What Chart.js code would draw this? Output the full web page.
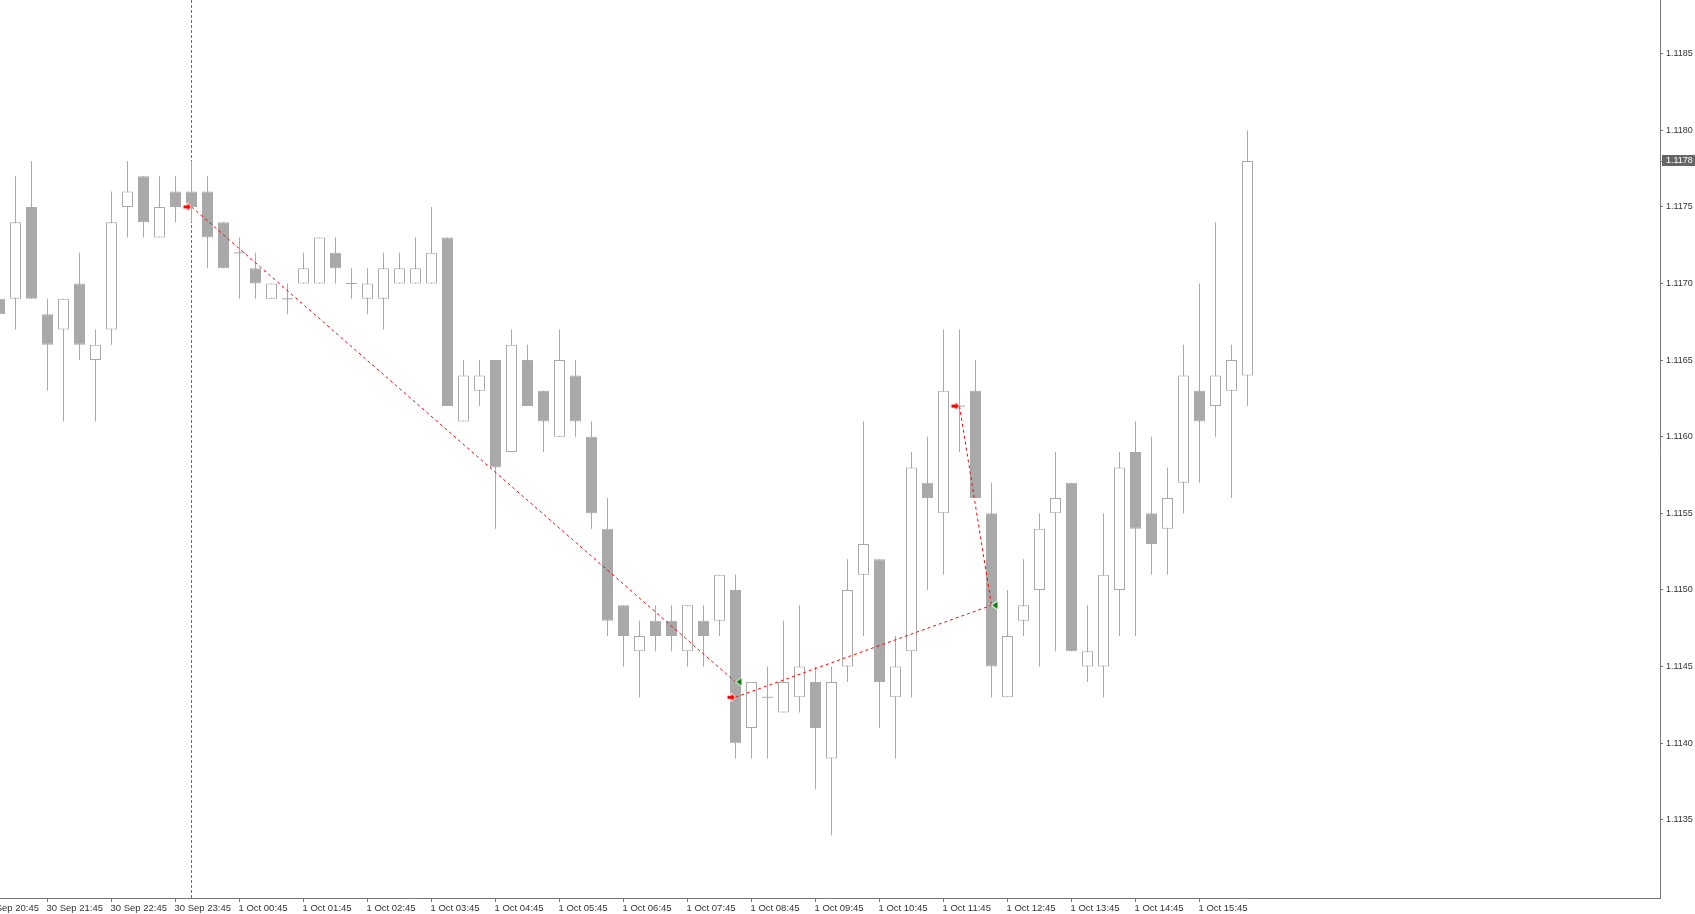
<!DOCTYPE html>
<html>
<head>
<meta charset="utf-8">
<script src="https://cdn.jsdelivr.net/npm/chart.js@4/dist/chart.umd.min.js"></script>
<style>
  html, body { margin: 0; padding: 0; background: #ffffff; overflow: hidden; }
  canvas { display: block; }
</style>
</head>
<body>
<canvas id="chart" width="1695" height="914"></canvas>
<script>
// EURUSD M15, 30 Sep 21:00 .. 1 Oct 16:30 (index 0 = 30 Sep 21:00)
const opens = [
    1.1169, 1.1169, 1.1175, 1.1168, 1.1167, 1.1170, 1.1165, 1.1167, 1.1175, 1.1177,
    1.1173, 1.1176, 1.1176, 1.1176, 1.1174, 1.1172, 1.1171, 1.1169, 1.1169, 1.1170,
    1.1170, 1.1172, 1.1170, 1.1169, 1.1169, 1.1170, 1.1170, 1.1170, 1.1173, 1.1161,
    1.1163, 1.1165, 1.1159, 1.1165, 1.1163, 1.1160, 1.1164, 1.1160, 1.1154, 1.1149,
    1.1146, 1.1148, 1.1148, 1.1146, 1.1148, 1.1148, 1.1150, 1.1141, 1.1143, 1.1142,
    1.1143, 1.1144, 1.1139, 1.1145, 1.1151, 1.1152, 1.1143, 1.1146, 1.1157, 1.1155,
    1.1162, 1.1163, 1.1155, 1.1143, 1.1148, 1.1150, 1.1155, 1.1157, 1.1145, 1.1145,
    1.1150, 1.1159, 1.1155, 1.1154, 1.1157, 1.1163, 1.1162, 1.1163, 1.1164
];
const highs = [
    1.1170, 1.1177, 1.1178, 1.1169, 1.1169, 1.1172, 1.1167, 1.1176, 1.1178, 1.1177,
    1.1177, 1.1177, 1.1178, 1.1177, 1.1174, 1.1173, 1.1172, 1.1170, 1.1170, 1.1172,
    1.1173, 1.1173, 1.1171, 1.1171, 1.1172, 1.1172, 1.1173, 1.1175, 1.1173, 1.1165,
    1.1165, 1.1165, 1.1167, 1.1166, 1.1163, 1.1167, 1.1165, 1.1161, 1.1156, 1.1149,
    1.1148, 1.1149, 1.1149, 1.1149, 1.1149, 1.1151, 1.1151, 1.1144, 1.1145, 1.1148,
    1.1149, 1.1145, 1.1145, 1.1152, 1.1161, 1.1152, 1.1147, 1.1159, 1.1160, 1.1167,
    1.1167, 1.1165, 1.1157, 1.1150, 1.1152, 1.1155, 1.1159, 1.1157, 1.1149, 1.1155,
    1.1159, 1.1161, 1.1160, 1.1158, 1.1166, 1.1170, 1.1174, 1.1166, 1.1180
];
const lows = [
    1.1167, 1.1167, 1.1169, 1.1163, 1.1161, 1.1165, 1.1161, 1.1166, 1.1173, 1.1173,
    1.1173, 1.1174, 1.1174, 1.1171, 1.1171, 1.1169, 1.1169, 1.1169, 1.1168, 1.1170,
    1.1170, 1.1170, 1.1169, 1.1168, 1.1167, 1.1170, 1.1170, 1.1170, 1.1162, 1.1161,
    1.1162, 1.1154, 1.1159, 1.1162, 1.1159, 1.1160, 1.1160, 1.1154, 1.1147, 1.1145,
    1.1143, 1.1146, 1.1146, 1.1145, 1.1145, 1.1147, 1.1139, 1.1139, 1.1139, 1.1142,
    1.1142, 1.1137, 1.1134, 1.1144, 1.1147, 1.1141, 1.1139, 1.1143, 1.1150, 1.1151,
    1.1159, 1.1156, 1.1143, 1.1143, 1.1147, 1.1145, 1.1146, 1.1146, 1.1144, 1.1143,
    1.1147, 1.1147, 1.1151, 1.1151, 1.1155, 1.1157, 1.1160, 1.1156, 1.1162
];
const closes = [
    1.1168, 1.1174, 1.1169, 1.1166, 1.1169, 1.1166, 1.1166, 1.1174, 1.1176, 1.1174,
    1.1175, 1.1175, 1.1175, 1.1173, 1.1171, 1.1172, 1.1170, 1.1170, 1.1169, 1.1171,
    1.1173, 1.1171, 1.1170, 1.1170, 1.1171, 1.1171, 1.1171, 1.1172, 1.1162, 1.1164,
    1.1164, 1.1158, 1.1166, 1.1162, 1.1161, 1.1165, 1.1161, 1.1155, 1.1148, 1.1147,
    1.1147, 1.1147, 1.1147, 1.1149, 1.1147, 1.1151, 1.1140, 1.1144, 1.1143, 1.1144,
    1.1145, 1.1141, 1.1144, 1.1150, 1.1153, 1.1144, 1.1145, 1.1158, 1.1156, 1.1163,
    1.1162, 1.1156, 1.1145, 1.1147, 1.1149, 1.1154, 1.1156, 1.1146, 1.1146, 1.1151,
    1.1158, 1.1154, 1.1153, 1.1156, 1.1164, 1.1161, 1.1164, 1.1165, 1.1178
];

// time axis labels, one every 4 bars, first one sits one bar left of index 0
const tickLabels = [
    '30 Sep 20:45', '30 Sep 21:45', '30 Sep 22:45', '30 Sep 23:45',
    '1 Oct 00:45', '1 Oct 01:45', '1 Oct 02:45', '1 Oct 03:45',
    '1 Oct 04:45', '1 Oct 05:45', '1 Oct 06:45', '1 Oct 07:45',
    '1 Oct 08:45', '1 Oct 09:45', '1 Oct 10:45', '1 Oct 11:45',
    '1 Oct 12:45', '1 Oct 13:45', '1 Oct 14:45', '1 Oct 15:45'
];
const firstTickIndex = -1;
const barsPerTick = 4;

const priceTicks = [1.1135, 1.1140, 1.1145, 1.1150, 1.1155, 1.1160, 1.1165, 1.1170, 1.1175, 1.1180, 1.1185];

// day separator (1 Oct 00:00)
const separatorIndex = 12;

// trades: open bar / price, close bar / price
const tradeOpenIdx = [12, 46, 60];
const tradeOpenPrice = [1.1175, 1.1143, 1.1162];
const tradeCloseIdx = [46, 62, 62];
const tradeClosePrice = [1.1144, 1.1149, 1.1149];

const Y_MIN = 1.11299;
const Y_MAX = 1.11885;
const X_MIN = 0.03125;
const X_MAX = 103.78125;

const CANDLE = '#a9a9a9';
const AXIS = '#777777';
const TEXT = '#333333';

function makeOpenArrow() {
    const c = document.createElement('canvas');
    c.width = 22; c.height = 13;
    const g = c.getContext('2d');
    g.beginPath();
    g.moveTo(11, 6.5);
    g.lineTo(6.5, 2);
    g.lineTo(6.5, 4.5);
    g.lineTo(2.5, 4.5);
    g.lineTo(2.5, 8.5);
    g.lineTo(6.5, 8.5);
    g.lineTo(6.5, 11);
    g.closePath();
    g.fillStyle = '#ff0000';
    g.fill();
    g.strokeStyle = '#ffffff';
    g.lineWidth = 1;
    g.stroke();
    return c;
}

function makeCloseMark() {
    const c = document.createElement('canvas');
    c.width = 22; c.height = 13;
    const g = c.getContext('2d');
    g.beginPath();
    g.moveTo(11, 6.5);
    g.lineTo(17.5, 2);
    g.lineTo(17.5, 11);
    g.closePath();
    g.fillStyle = '#008000';
    g.fill();
    g.strokeStyle = '#ffffff';
    g.lineWidth = 1;
    g.stroke();
    return c;
}

const wickData = highs.map((h, i) => ({ x: i, y: [lows[i], h] }));
const bodyData = opens.map((o, i) => (o === closes[i] ? null : { x: i, y: [o, closes[i]] })).filter(Boolean);
const bodyFill = bodyData.map(d => (d.y[1] > d.y[0] ? '#ffffff' : CANDLE));
const dojiData = opens.map((o, i) => (o === closes[i] ? { x: i, y: o } : null)).filter(Boolean);

const tradeLines = tradeOpenIdx.map((idx, k) => ({
    type: 'line',
    data: [{ x: idx, y: tradeOpenPrice[k] }, { x: tradeCloseIdx[k], y: tradeClosePrice[k] }],
    borderColor: '#ff0000',
    borderWidth: 1,
    borderDash: [3, 3],
    pointRadius: 0,
    fill: false,
    order: 1
}));

const openArrow = makeOpenArrow();
const closeMark = makeCloseMark();

const currentPriceLabel = {
    id: 'currentPriceLabel',
    afterDraw(chart) {
        const { ctx, chartArea, scales } = chart;
        const last = closes[closes.length - 1];
        const y = Math.round(scales.y.getPixelForValue(last));
        ctx.save();
        ctx.fillStyle = '#666666';
        ctx.fillRect(chartArea.right + 2, y - 6, chart.width - chartArea.right - 2, 11);
        ctx.strokeStyle = AXIS;
        ctx.beginPath();
        ctx.moveTo(chartArea.right, y + 0.5);
        ctx.lineTo(chartArea.right + 3, y + 0.5);
        ctx.stroke();
        ctx.fillStyle = '#ffffff';
        ctx.font = '9px "Liberation Sans", Arial, sans-serif';
        ctx.textBaseline = 'middle';
        ctx.fillText(last.toFixed(4), chartArea.right + 6, y);
        ctx.restore();
    }
};

const ctx = document.getElementById('chart').getContext('2d');
new Chart(ctx, {
    type: 'bar',
    data: {
        datasets: [
            {
                type: 'line',
                data: tradeOpenIdx.map((idx, k) => ({ x: idx, y: tradeOpenPrice[k] })),
                showLine: false,
                pointStyle: openArrow,
                pointRadius: 5,
                order: 0
            },
            {
                type: 'line',
                data: tradeCloseIdx.map((idx, k) => ({ x: idx, y: tradeClosePrice[k] })),
                showLine: false,
                pointStyle: closeMark,
                pointRadius: 5,
                order: 0
            },
            ...tradeLines,
            {
                type: 'line',
                data: dojiData,
                showLine: false,
                pointStyle: 'line',
                pointRadius: 5.5,
                pointBorderColor: CANDLE,
                pointBorderWidth: 1,
                order: 2
            },
            {
                data: bodyData,
                backgroundColor: bodyFill,
                borderColor: CANDLE,
                borderWidth: 1,
                borderSkipped: false,
                barThickness: 11,
                grouped: false,
                inflateAmount: 0,
                order: 3
            },
            {
                data: wickData,
                backgroundColor: CANDLE,
                borderWidth: 0,
                barThickness: 1,
                grouped: false,
                inflateAmount: 0,
                order: 4
            },
            {
                type: 'line',
                data: [{ x: separatorIndex, y: Y_MIN }, { x: separatorIndex, y: Y_MAX }],
                borderColor: '#6e6e6e',
                borderWidth: 1,
                borderDash: [3, 2],
                pointRadius: 0,
                order: 5
            }
        ]
    },
    options: {
        responsive: false,
        animation: false,
        layout: { padding: 0, autoPadding: false },
        plugins: {
            legend: { display: false },
            tooltip: { enabled: false }
        },
        scales: {
            x: {
                type: 'linear',
                position: 'bottom',
                offset: false,
                min: X_MIN,
                max: X_MAX,
                grid: { offset: false, drawOnChartArea: false, drawTicks: true, tickLength: 4, color: AXIS },
                border: { display: true, color: AXIS, width: 1 },
                ticks: {
                    autoSkip: false,
                    maxRotation: 0,
                    align: 'start',
                    labelOffset: -1,
                    padding: 1,
                    color: TEXT,
                    font: { family: '"Liberation Sans", Arial, sans-serif', size: 9.5 },
                    callback: (value, index) => tickLabels[index]
                },
                afterBuildTicks: (scale) => {
                    scale.ticks = tickLabels.map((_, k) => ({ value: firstTickIndex + barsPerTick * k }));
                },
                afterFit: (scale) => {
                    scale.height = 16;
                    scale.paddingLeft = 0;
                    scale.paddingRight = 0;
                }
            },
            y: {
                type: 'linear',
                position: 'right',
                min: Y_MIN,
                max: Y_MAX,
                grid: { drawOnChartArea: false, drawTicks: true, tickLength: 3, color: AXIS },
                border: { display: true, color: AXIS, width: 1 },
                ticks: {
                    padding: 3,
                    color: TEXT,
                    font: { family: '"Liberation Sans", Arial, sans-serif', size: 9 },
                    callback: (value) => Number(value).toFixed(4)
                },
                afterBuildTicks: (scale) => {
                    scale.ticks = priceTicks.map(v => ({ value: v }));
                },
                afterFit: (scale) => {
                    scale.width = 35;
                    scale.paddingTop = 0;
                    scale.paddingBottom = 0;
                }
            }
        }
    },
    plugins: [currentPriceLabel]
});
</script>
</body>
</html>
